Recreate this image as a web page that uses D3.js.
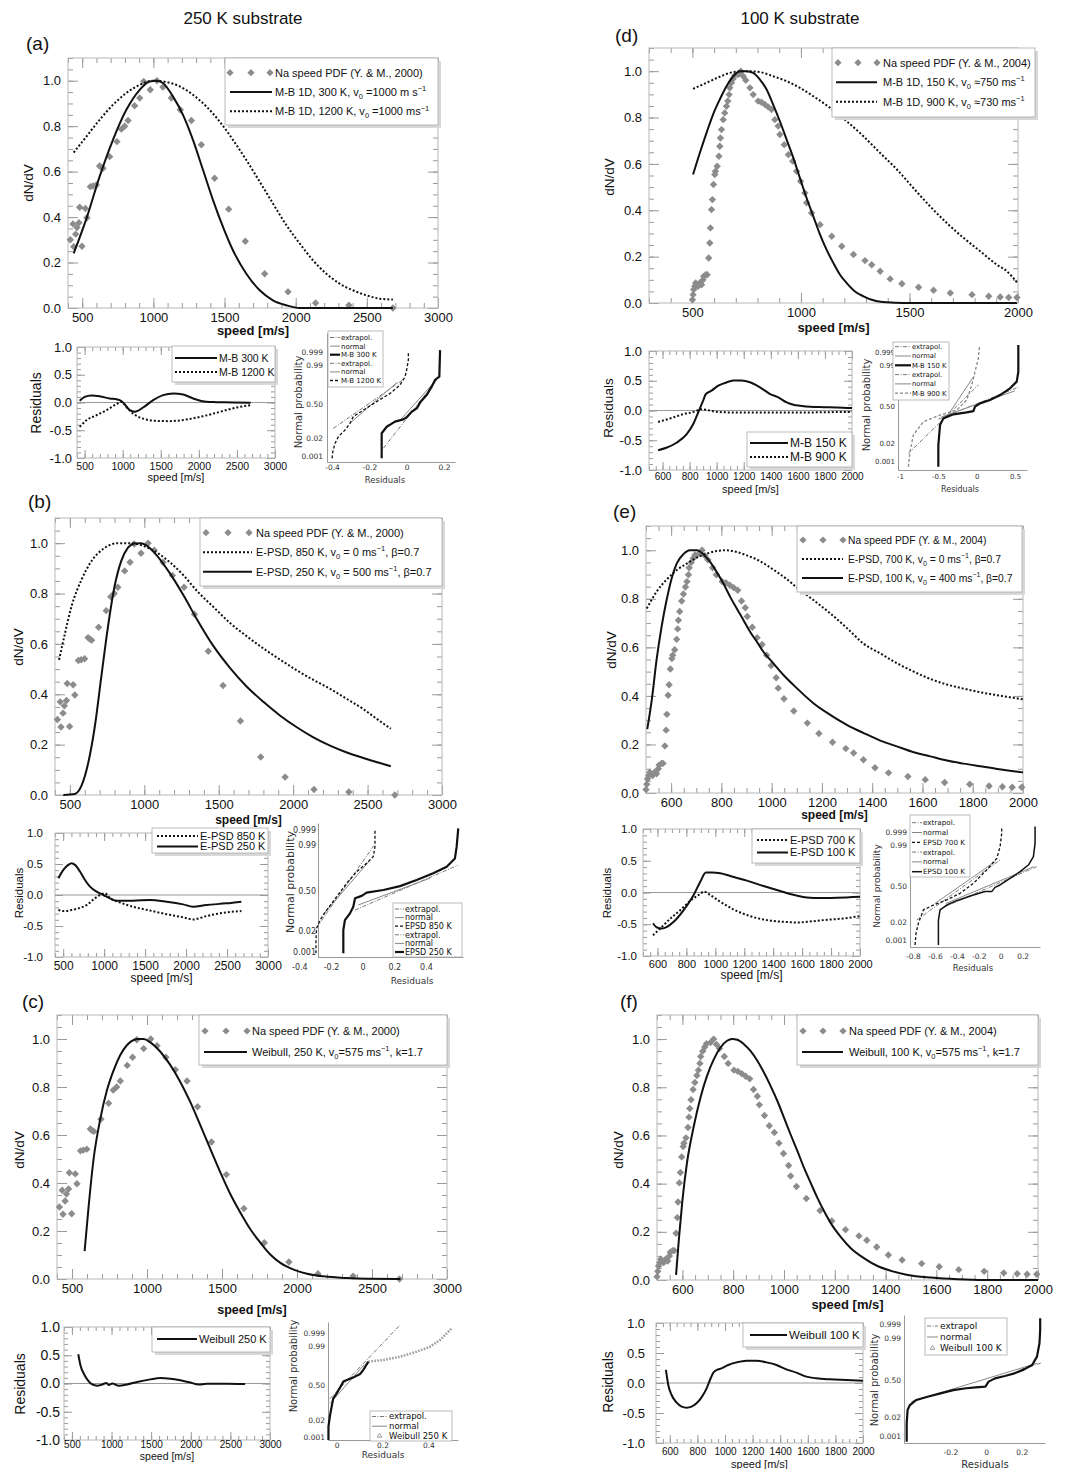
<!DOCTYPE html>
<html>
<head>
<meta charset="utf-8">
<script src="https://cdn.jsdelivr.net/npm/d3@7"></script>
<style>
body { margin: 0; background: #fff; }
svg { display: block; }
</style>
</head>
<body>
<script>
var SANS = "'Liberation Sans', Arial, Helvetica, sans-serif";
var DEJA = "'DejaVu Sans', sans-serif";
var DIAM = "#8c8c8c";

// measured Na speed PDF, [speed m/s, dN/dV]
var naPdf2000 = [[416,0.30],[435,0.37],[440,0.27],[454,0.325],[463,0.354],[477,0.375],[482,0.443],[498,0.272],[522,0.438],[533,0.397],[557,0.534],[576,0.537],[599,0.541],[622,0.625],[634,0.619],[646,0.615],[693,0.666],[744,0.732],[775,0.787],[798,0.80],[822,0.825],[868,0.89],[904,0.924],[932,0.997],[978,0.96],[1025,1.0],[1067,0.972],[1126,0.924],[1189,0.872],[1267,0.825],[1337,0.718],[1430,0.571],[1529,0.435],[1646,0.294],[1782,0.151],[1946,0.071],[2140,0.022],[2374,0.012],[2683,0.0]];
var naPdf2004 = [[500,0.014],[503,0.036],[506,0.058],[511,0.072],[515,0.086],[526,0.072],[534,0.086],[542,0.079],[549,0.1],[552,0.115],[562,0.122],[568,0.122],[575,0.194],[580,0.259],[583,0.324],[588,0.403],[592,0.446],[597,0.511],[603,0.554],[606,0.568],[614,0.59],[622,0.633],[626,0.676],[629,0.712],[634,0.748],[642,0.791],[649,0.82],[657,0.849],[663,0.871],[669,0.899],[672,0.928],[680,0.95],[688,0.967],[695,0.981],[711,0.986],[723,1.0],[734,0.978],[746,0.961],[765,0.928],[780,0.899],[803,0.871],[818,0.866],[834,0.856],[849,0.846],[865,0.835],[880,0.791],[895,0.763],[903,0.727],[923,0.683],[942,0.64],[962,0.612],[980,0.568],[998,0.525],[1018,0.475],[1026,0.432],[1049,0.388],[1088,0.338],[1142,0.288],[1188,0.245],[1242,0.209],[1295,0.183],[1326,0.165],[1365,0.137],[1411,0.104],[1465,0.083],[1542,0.068],[1611,0.055],[1688,0.043],[1788,0.036],[1865,0.029],[1918,0.026],[1957,0.024],[1995,0.024]];

// model fits, [speed, dN/dV]
var fitMB300K = [[440,0.24],[533,0.40],[622,0.578],[716,0.74],[810,0.872],[904,0.96],[974,0.997],[1021,1.0],[1067,0.99],[1138,0.93],[1208,0.85],[1278,0.74],[1349,0.607],[1419,0.475],[1489,0.357],[1559,0.254],[1653,0.151],[1747,0.078],[1840,0.034],[1934,0.012],[2028,0.0],[2683,0]];
var fitMB1200K = [[440,0.684],[529,0.754],[622,0.828],[716,0.894],[810,0.946],[904,0.982],[997,1.0],[1091,0.994],[1185,0.975],[1278,0.938],[1372,0.887],[1466,0.82],[1559,0.74],[1653,0.651],[1747,0.556],[1840,0.46],[1934,0.365],[2028,0.284],[2121,0.21],[2215,0.151],[2309,0.107],[2402,0.078],[2496,0.056],[2590,0.041],[2683,0.037]];
var fitEPSD850K = [[427,0.536],[467,0.642],[511,0.749],[578,0.855],[644,0.928],[733,0.981],[822,1.0],[911,1.0],[1000,0.988],[1089,0.961],[1178,0.921],[1267,0.87],[1356,0.809],[1467,0.745],[1578,0.682],[1689,0.63],[1800,0.582],[1911,0.538],[2022,0.496],[2133,0.458],[2244,0.423],[2356,0.383],[2467,0.343],[2560,0.303],[2656,0.263]];
var fitEPSD250K = [[456,0],[533,0.004],[578,0.037],[622,0.124],[667,0.27],[711,0.469],[756,0.669],[800,0.828],[844,0.928],[889,0.981],[933,0.999],[978,1.0],[1022,0.988],[1089,0.948],[1178,0.875],[1267,0.789],[1356,0.695],[1467,0.589],[1578,0.503],[1689,0.43],[1800,0.37],[1911,0.316],[2022,0.27],[2133,0.23],[2244,0.197],[2356,0.17],[2467,0.148],[2578,0.128],[2656,0.114]];
var fitWeib250K = [[584,0.116],[611,0.304],[644,0.5],[689,0.668],[733,0.786],[778,0.87],[822,0.933],[867,0.975],[911,0.996],[944,1.0],[978,1.0],[1022,0.986],[1089,0.947],[1156,0.891],[1222,0.821],[1289,0.737],[1356,0.64],[1422,0.542],[1489,0.444],[1556,0.353],[1622,0.277],[1689,0.207],[1756,0.151],[1822,0.102],[1889,0.067],[1978,0.039],[2067,0.022],[2178,0.011],[2333,0.004],[2467,0.001],[2689,0]];
var fitMB150K = [[503,0.554],[534,0.647],[565,0.734],[595,0.813],[626,0.878],[657,0.935],[688,0.978],[718,1.0],[749,1.0],[780,0.993],[811,0.964],[842,0.921],[872,0.856],[903,0.784],[934,0.705],[965,0.626],[995,0.54],[1026,0.453],[1057,0.374],[1088,0.295],[1118,0.23],[1149,0.173],[1180,0.122],[1211,0.086],[1249,0.05],[1288,0.029],[1334,0.012],[1395,0.003],[1472,0],[1995,0]];
var fitMB900K = [[503,0.924],[565,0.95],[626,0.976],[688,0.996],[749,1.0],[811,0.996],[872,0.978],[934,0.957],[995,0.928],[1057,0.892],[1134,0.842],[1211,0.784],[1288,0.719],[1365,0.647],[1442,0.576],[1518,0.496],[1595,0.417],[1672,0.345],[1749,0.281],[1826,0.223],[1903,0.165],[1949,0.137],[1995,0.089]];
var fitEPSD700K = [[503,0.76],[542,0.829],[582,0.879],[622,0.918],[662,0.945],[702,0.97],[742,0.986],[781,0.997],[821,1.0],[861,0.993],[901,0.979],[941,0.962],[981,0.938],[1020,0.911],[1060,0.881],[1100,0.847],[1166,0.795],[1233,0.74],[1299,0.68],[1366,0.615],[1432,0.575],[1498,0.535],[1565,0.5],[1631,0.47],[1697,0.447],[1764,0.43],[1830,0.415],[1897,0.403],[2000,0.386]];
var fitEPSD100K = [[505,0.263],[523,0.384],[542,0.548],[562,0.685],[582,0.795],[602,0.884],[622,0.945],[649,0.984],[675,1.0],[702,1.0],[728,0.984],[755,0.952],[781,0.911],[808,0.863],[835,0.808],[861,0.76],[888,0.712],[914,0.664],[941,0.623],[967,0.582],[1007,0.534],[1047,0.486],[1100,0.432],[1166,0.37],[1233,0.322],[1299,0.281],[1366,0.247],[1432,0.216],[1498,0.192],[1565,0.168],[1631,0.151],[1697,0.134],[1764,0.121],[1830,0.11],[1897,0.099],[2000,0.085]];
var fitWeib100K = [[575,0.021],[586,0.167],[599,0.319],[618,0.486],[645,0.639],[671,0.757],[697,0.847],[724,0.917],[750,0.965],[776,0.993],[796,1.0],[816,0.997],[842,0.979],[868,0.951],[895,0.91],[921,0.861],[947,0.806],[974,0.743],[1000,0.674],[1026,0.604],[1053,0.535],[1079,0.465],[1105,0.403],[1132,0.34],[1158,0.285],[1184,0.236],[1224,0.178],[1263,0.132],[1316,0.09],[1368,0.058],[1421,0.038],[1487,0.021],[1579,0.01],[1684,0.003],[1789,0],[2000,0]];

// residuals, [speed, residual]
var resMB300K = [[435,0.03],[501,0.10],[589,0.126],[698,0.114],[830,0.072],[920,0.06],[961,0.042],[1005,0.0],[1093,-0.138],[1159,-0.168],[1268,-0.09],[1400,0.042],[1531,0.132],[1663,0.162],[1794,0.144],[1926,0.072],[2101,0.012],[2233,0.006],[2452,0],[2680,-0.006]];
var resMB1200K = [[435,-0.44],[523,-0.32],[654,-0.23],[786,-0.14],[917,-0.03],[983,0.012],[1049,-0.08],[1137,-0.2],[1268,-0.29],[1444,-0.33],[1619,-0.336],[1838,-0.306],[2057,-0.246],[2277,-0.168],[2496,-0.09],[2680,-0.048]];
var resEPSD850K = [[441,-0.243],[502,-0.26],[603,-0.243],[684,-0.216],[786,-0.162],[887,-0.054],[948,0],[1009,0.027],[1070,-0.05],[1192,-0.12],[1355,-0.19],[1558,-0.25],[1761,-0.31],[1964,-0.36],[2086,-0.395],[2248,-0.34],[2492,-0.28],[2675,-0.26]];
var resEPSD250K = [[441,0.27],[502,0.405],[562,0.486],[603,0.514],[644,0.486],[705,0.378],[766,0.243],[827,0.135],[908,0.054],[989,0],[1070,-0.054],[1152,-0.092],[1355,-0.092],[1558,-0.081],[1761,-0.108],[1964,-0.151],[2086,-0.189],[2248,-0.162],[2492,-0.135],[2675,-0.108]];
var resWeib250K = [[580,0.518],[610,0.31],[652,0.169],[702,0.056],[756,-0.017],[819,-0.039],[882,-0.017],[937,0.011],[966,-0.028],[1008,0],[1092,-0.039],[1197,-0.017],[1323,0.028],[1490,0.073],[1616,0.096],[1742,0.085],[1868,0.056],[1994,0.017],[2099,-0.017],[2203,-0.006],[2455,-0.006],[2686,-0.011]];
var resMB150K = [[567,-0.667],[628,-0.627],[703,-0.542],[777,-0.401],[826,-0.232],[863,-0.034],[900,0.164],[920,0.277],[962,0.333],[1012,0.418],[1061,0.463],[1123,0.503],[1184,0.503],[1246,0.475],[1320,0.39],[1395,0.277],[1456,0.22],[1518,0.136],[1567,0.096],[1617,0.079],[1691,0.062],[1790,0.056],[1889,0.051],[2000,0.04]];
var resMB900K = [[567,-0.192],[653,-0.136],[752,-0.062],[851,-0.006],[876,0.023],[925,0.011],[999,-0.023],[1147,-0.034],[1345,-0.034],[1592,-0.034],[1839,-0.028],[2000,-0.023]];
var resEPSD700K = [[569,-0.673],[619,-0.567],[689,-0.409],[758,-0.277],[827,-0.129],[884,-0.04],[923,0.013],[965,-0.04],[1034,-0.145],[1126,-0.266],[1241,-0.372],[1356,-0.435],[1471,-0.462],[1574,-0.472],[1632,-0.462],[1747,-0.435],[1885,-0.409],[2000,-0.372]];
var resEPSD100K = [[569,-0.488],[597,-0.551],[631,-0.567],[666,-0.541],[712,-0.462],[781,-0.277],[850,-0.04],[896,0.171],[935,0.314],[976,0.314],[1034,0.303],[1103,0.261],[1218,0.187],[1333,0.103],[1448,0.024],[1517,-0.024],[1574,-0.055],[1632,-0.077],[1724,-0.087],[1839,-0.082],[2000,-0.066]];
var resWeib100K = [[572,0.217],[589,-0.033],[613,-0.2],[650,-0.328],[686,-0.394],[722,-0.411],[758,-0.394],[794,-0.339],[830,-0.239],[867,-0.089],[891,0.05],[915,0.172],[939,0.217],[975,0.244],[1023,0.3],[1084,0.344],[1156,0.372],[1228,0.372],[1301,0.344],[1373,0.3],[1445,0.228],[1518,0.172],[1590,0.106],[1662,0.078],[1759,0.061],[1879,0.05],[2000,0.039]];

// normal probability plots, [residual, normal quantile]
var probMB300K = [[-0.134,-3.23],[-0.134,-1.74],[-0.107,-1.35],[-0.0625,-1.05],[-0.018,-0.91],[0,-0.79],[0.027,-0.46],[0.054,-0.26],[0.075,0.14],[0.107,0.53],[0.134,1.03],[0.152,1.43],[0.175,1.62],[0.179,3.2]];
var probMB1200K = [[-0.40,-3.23],[-0.396,-2.83],[-0.384,-2.34],[-0.366,-1.94],[-0.33,-1.54],[-0.304,-1.15],[-0.286,-0.75],[-0.232,-0.36],[-0.161,0.14],[-0.089,0.63],[-0.036,1.13],[-0.009,1.62],[0,2.02],[0.009,2.61],[0.009,3.1]];
var extMB300K = [[-0.125,-2.63],[0.161,1.43]], normMB300K = [[-0.03,-0.9],[0.16,1.45]];
var extMB1200K = [[-0.393,-1.45],[-0.009,1.52]], normMB1200K = [[-0.30,-1.1],[-0.05,1.3]];
var probEPSD850K = [[-0.295,-3.17],[-0.295,-2.5],[-0.291,-1.9],[-0.269,-1.48],[-0.227,-0.97],[-0.164,-0.29],[-0.101,0.39],[-0.038,0.98],[0.025,1.41],[0.067,1.75],[0.078,2.26],[0.078,3.1]];
var probEPSD250K = [[-0.122,-3.17],[-0.122,-1.99],[-0.112,-1.48],[-0.08,-1.14],[-0.059,-0.8],[-0.048,-0.37],[-0.006,-0.25],[0.025,-0.08],[0.131,0.05],[0.236,0.25],[0.341,0.56],[0.446,0.9],[0.531,1.24],[0.583,1.66],[0.594,2.26],[0.604,3.19]];
var extEPSD850K = [[-0.29,-1.85],[0.07,2.3]], normEPSD850K = [[-0.25,-1.2],[0.05,1.6]];
var extEPSD250K = [[-0.048,-0.97],[0.604,1.32]], normEPSD250K = [[-0.027,-0.71],[0.425,0.65]];
var probWeib250K = [[-0.036,-3.25],[-0.036,-2.46],[-0.029,-1.77],[-0.022,-1.28],[-0.015,-0.79],[0,-0.49],[0.015,-0.14],[0.029,0.2],[0.044,0.3],[0.073,0.45],[0.102,0.65],[0.116,0.89],[0.138,1.38],[0.204,1.48],[0.276,1.67],[0.349,1.97],[0.407,2.26],[0.451,2.66],[0.487,3.15],[0.502,3.35]];
var extWeib250K = [[-0.03,-0.81],[0.276,3.54]], normWeib250K = [[-0.03,-1.1],[0.12,1.2]];
var probMB150K = [[-0.5,-3.4],[-0.5,-2.17],[-0.478,-1.04],[-0.435,-0.66],[-0.304,-0.43],[-0.13,-0.32],[-0.043,-0.25],[-0.022,0],[0.043,0.19],[0.174,0.38],[0.304,0.66],[0.435,1.04],[0.522,1.42],[0.543,1.98],[0.543,3.49]];
var probMB900K = [[-0.891,-3.4],[-0.87,-2.55],[-0.826,-1.6],[-0.696,-0.85],[-0.478,-0.47],[-0.26,-0.19],[-0.13,0.38],[-0.065,1.23],[-0.022,1.98],[0.022,2.74],[0.035,3.4]];
var extMB150K = [[-0.5,-0.7],[0.543,1.1]], normMB150K = [[-0.457,-0.57],[0.5,0.9]];
var extMB900K = [[-0.891,-2.64],[0.022,1.23]], normMB900K = [[-0.39,-0.57],[-0.04,1.7]];
var probEPSD700K = [[-0.781,-3.38],[-0.772,-2.71],[-0.751,-2.14],[-0.705,-1.37],[-0.614,-1.09],[-0.492,-0.8],[-0.371,-0.42],[-0.249,0.15],[-0.128,0.92],[-0.036,1.58],[-0.006,2.25],[0.009,3.02],[0.009,3.4]];
var probEPSD100K = [[-0.568,-3.38],[-0.568,-1.95],[-0.553,-1.37],[-0.492,-1.09],[-0.401,-0.84],[-0.249,-0.52],[-0.143,-0.32],[-0.082,-0.32],[-0.052,-0.08],[-0.006,0.06],[0.085,0.44],[0.176,0.82],[0.252,1.2],[0.298,1.68],[0.313,2.44],[0.313,3.4]];
var extEPSD700K = [[-0.766,-1.95],[-0.006,1.49]], normEPSD700K = [[-0.6,-1.0],[-0.05,1.4]];
var extEPSD100K = [[-0.508,-1.18],[0.328,1.11]], normEPSD100K = [[-0.5,-1.0],[0.3,1.1]];
var probWeib100K = [[-0.445,-3.43],[-0.445,-2.41],[-0.44,-1.67],[-0.427,-1.39],[-0.391,-1.11],[-0.328,-0.93],[-0.256,-0.74],[-0.184,-0.56],[-0.112,-0.46],[-0.058,-0.41],[-0.004,-0.37],[0.014,-0.09],[0.05,0.09],[0.105,0.22],[0.159,0.37],[0.213,0.59],[0.258,0.83],[0.285,1.3],[0.299,2.04],[0.303,2.78],[0.303,3.43]];
var extWeib100K = [[0.2,0.6],[0.31,0.95]], normWeib100K = [[-0.418,-1.2],[0.285,0.93]];

// tick labels
var yMainTicks = [0, 0.2, 0.4, 0.6, 0.8, 1.0];
var yResTicks = [-1, -0.5, 0, 0.5, 1];
var probTicks = [0.001, 0.02, 0.5, 0.99, 0.999];
var probLabels = ["0.001", "0.02", "0.50", "0.99", "0.999"];
var speedTicksA = [500, 1000, 1500, 2000, 2500, 3000];
var speedTicksD = [500, 1000, 1500, 2000];
var speedTicksE = [600, 800, 1000, 1200, 1400, 1600, 1800, 2000];

var STYLE = {
  solid: {c: "#111", w: 2, d: null},
  dot: {c: "#111", w: 2, d: "2,2"},
  thick: {c: "#111", w: 2.2, d: null},
  thin: {c: "#111", w: 1.5, d: null},
  dash: {c: "#111", w: 1.3, d: "3,2"},
  gdash: {c: "#888", w: 1.3, d: "3,2"},
  ext: {c: "#777", w: 1, d: "4,1.5,1,1.5"},
  norm: {c: "#888", w: 1, d: null},
  tri: {c: "#9a9a9a", w: 2.5, d: "1.6,1.4"}
};

//Create SVG element
var svg = d3.select("body").append("svg")
  .attr("width", 1067).attr("height", 1469)
  .style("background", "#fff");

function steps(d, s) {
  var out = [];
  for (var v = Math.ceil(d[0] / s - 1e-9) * s; v <= d[1] + 1e-9; v += s) out.push(+v.toFixed(6));
  return out;
}

// inverse normal CDF (Acklam), used for the probability axis
function probit(p) {
  var a = [-39.69683028665376, 220.9460984245205, -275.9285104469687, 138.3577518672690, -30.66479806614716, 2.506628277459239],
      b = [-54.47609879822406, 161.5858368580409, -155.6989798598866, 66.80131188771972, -13.28068155288572],
      c = [-7.784894002430293e-03, -0.3223964580411365, -2.400758277161838, -2.549732539343734, 4.374664141464968, 2.938163982698783],
      d = [7.784695709041462e-03, 0.3224671290700398, 2.445134137142996, 3.754408661907416];
  var pl = 0.02425, q, r;
  if (p < pl) {
    q = Math.sqrt(-2 * Math.log(p));
    return (((((c[0]*q+c[1])*q+c[2])*q+c[3])*q+c[4])*q+c[5]) / ((((d[0]*q+d[1])*q+d[2])*q+d[3])*q+1);
  }
  if (p > 1 - pl) {
    q = Math.sqrt(-2 * Math.log(1 - p));
    return -(((((c[0]*q+c[1])*q+c[2])*q+c[3])*q+c[4])*q+c[5]) / ((((d[0]*q+d[1])*q+d[2])*q+d[3])*q+1);
  }
  q = p - 0.5; r = q * q;
  return (((((a[0]*r+a[1])*r+a[2])*r+a[3])*r+a[4])*r+a[5])*q / (((((b[0]*r+b[1])*r+b[2])*r+b[3])*r+b[4])*r+1);
}

function rich(t, parts, fs) {
  var shift = 0;
  (typeof parts === "string" ? [parts] : parts).forEach(function(p) {
    var s = t.append("tspan"), target = 0, txt = p;
    if (typeof p !== "string") {
      txt = p.sub || p.sup;
      target = p.sub ? fs * 0.3 : -fs * 0.42;
      s.attr("font-size", fs * 0.68);
    }
    if (target - shift !== 0) s.attr("dy", target - shift);
    s.text(txt);
    shift = target;
  });
}

var diamondPath = function(r) { return d3.symbol(d3.symbolSquare, 2 * r * r)(); };

function legend(o) {
  var g = svg.append("g").attr("transform", "translate(" + o.x + "," + o.y + ")");
  if (o.shadow) g.append("rect").attr("x", 3).attr("y", 3).attr("width", o.w).attr("height", o.h).attr("fill", "#d8d8d8");
  g.append("rect").attr("width", o.w).attr("height", o.h).attr("fill", "#fff").attr("stroke", "#aaa").attr("stroke-width", 0.8);
  o.rows.forEach(function(r, i) {
    var cy = o.y0 + i * o.dy;
    if (r.kind === "diam") {
      o.dx.forEach(function(dx) {
        g.append("path").attr("d", diamondPath(3.6))
          .attr("transform", "translate(" + dx + "," + cy + ") rotate(45)").attr("fill", DIAM);
      });
    } else if (r.kind === "trimark") {
      g.append("path").attr("d", d3.symbol(d3.symbolTriangle, 9)())
        .attr("transform", "translate(" + ((o.s0 + o.s1) / 2) + "," + cy + ")")
        .attr("fill", "none").attr("stroke", "#777").attr("stroke-width", 0.7);
    } else {
      var st = STYLE[r.kind];
      g.append("line").attr("x1", o.s0).attr("x2", o.s1).attr("y1", cy).attr("y2", cy)
        .attr("stroke", st.c).attr("stroke-width", st.w).attr("stroke-dasharray", st.d);
    }
    var t = g.append("text").attr("x", o.tx).attr("y", cy).attr("dy", "0.35em")
      .attr("font-size", o.fs).attr("font-family", o.font || SANS).attr("fill", "#111");
    rich(t, r.label, o.fs);
  });
}

// boxed plot with inward ticks on all four sides
function framed(o) {
  var g = svg.append("g");
  var x = d3.scaleLinear().domain(o.xd).range([o.l, o.r]);
  var y = d3.scaleLinear().domain(o.yd).range([o.b, o.t]);
  function tk(axis, vals, len, tx, ty) {
    g.append("g").attr("transform", "translate(" + tx + "," + ty + ")")
      .call(axis.tickValues(vals).tickSizeInner(-len).tickSizeOuter(0).tickFormat(""))
      .call(function(s) {
        s.select(".domain").remove();
        s.selectAll("text").remove();
        s.selectAll("line").attr("stroke", "#9a9a9a");
      });
  }
  var xMin = steps(o.xd, o.xm), yMin = steps(o.yd, o.ym), tl = o.tl;
  tk(d3.axisLeft(y), yMin, tl / 2, o.l, 0);
  tk(d3.axisLeft(y), o.yt, tl, o.l, 0);
  tk(d3.axisRight(y), yMin, tl / 2, o.r, 0);
  tk(d3.axisRight(y), o.yt, tl, o.r, 0);
  tk(d3.axisBottom(x), xMin, tl / 2, 0, o.b);
  tk(d3.axisBottom(x), o.xt, tl, 0, o.b);
  tk(d3.axisTop(x), xMin, tl / 2, 0, o.t);
  tk(d3.axisTop(x), o.xt, tl, 0, o.t);
  g.append("rect").attr("x", o.l).attr("y", o.t).attr("width", o.r - o.l).attr("height", o.b - o.t)
    .attr("fill", "none").attr("stroke", "#b8b8b8");

  g.append("g").attr("transform", "translate(" + o.l + ",0)")
    .call(d3.axisLeft(y).tickValues(o.yt).tickSize(0).tickPadding(o.ypad).tickFormat(function(v) { return v.toFixed(1); }))
    .attr("font-family", SANS).attr("font-size", o.yfs)
    .call(function(s) { s.select(".domain").remove(); s.selectAll("text").attr("fill", "#111"); });
  g.append("g").attr("transform", "translate(0," + o.b + ")")
    .call(d3.axisBottom(x).tickValues(o.xt).tickSize(0).tickPadding(o.xpad).tickFormat(function(v) { return String(v); }))
    .attr("font-family", SANS).attr("font-size", o.xfs)
    .call(function(s) { s.select(".domain").remove(); s.selectAll("text").attr("fill", "#111"); });

  g.append("text").attr("transform", "translate(" + o.ylab.x + "," + o.ylab.y + ") rotate(-90)")
    .attr("text-anchor", "middle").attr("font-family", SANS).attr("font-size", o.ylab.fs).attr("fill", "#111")
    .text(o.ylab.t);
  g.append("text").attr("x", (o.l + o.r) / 2).attr("y", o.xlab.y)
    .attr("text-anchor", "middle").attr("font-family", SANS).attr("font-size", o.xlab.fs)
    .attr("font-weight", o.xlab.bold ? "bold" : null).attr("fill", "#111")
    .text("speed [m/s]");
  return {g: g, x: x, y: y};
}

function curve(g, x, y, data, kind, shape) {
  var st = STYLE[kind];
  g.append("path").datum(data)
    .attr("fill", "none").attr("stroke", st.c).attr("stroke-width", st.w).attr("stroke-dasharray", st.d)
    .attr("stroke-linejoin", "round")
    .attr("d", d3.line().x(function(d) { return x(d[0]); }).y(function(d) { return y(d[1]); }).curve(shape || d3.curveMonotoneX));
}

function mainPanel(o) {
  var f = framed({l: o.l, r: o.r, t: o.t, b: o.b, xd: o.xd, yd: [0, 1.1], xt: o.xt, xm: o.xm, yt: yMainTicks, ym: 0.05,
    tl: 10, yfs: 13, xfs: 13, ypad: 7, xpad: 5, ylab: {t: "dN/dV", x: o.ylab[0], y: o.ylab[1], fs: 13.5},
    xlab: {y: o.xlabY, fs: o.xlabFs, bold: true}});
  f.g.selectAll(null).data(o.pdf).join("path")
    .attr("d", diamondPath(3.7))
    .attr("transform", function(d) { return "translate(" + f.x(d[0]) + "," + f.y(d[1]) + ") rotate(45)"; })
    .attr("fill", DIAM);
  o.fits.forEach(function(c) { curve(f.g, f.x, f.y, c.data, c.kind); });
  svg.append("text").attr("x", o.tag[1]).attr("y", o.tag[2]).attr("font-family", SANS).attr("font-size", 19)
    .attr("fill", "#111").text(o.tag[0]);
  legend(Object.assign({shadow: true}, o.leg));
}

function resPanel(o) {
  var f = framed({l: o.l, r: o.r, t: o.t, b: o.b, xd: o.xd, yd: [-1, 1], xt: o.xt, xm: o.xm, yt: yResTicks, ym: 0.1,
    tl: 8, yfs: o.yfs, xfs: o.xfs, ypad: o.ypad, xpad: o.xpad,
    ylab: {t: "Residuals", x: o.ylab[0], y: o.ylab[1], fs: o.ylab[2]}, xlab: {y: o.xlab[0], fs: o.xlab[1]}});
  f.g.append("line").attr("x1", o.l).attr("x2", o.r).attr("y1", f.y(0)).attr("y2", f.y(0))
    .attr("stroke", "#999").attr("stroke-width", 1);
  o.curves.forEach(function(c) { curve(f.g, f.x, f.y, c.data, c.kind); });
  legend(Object.assign({shadow: true}, o.leg));
}

function probPanel(o) {
  var g = svg.append("g");
  var x = d3.scaleLinear().domain(o.xd).range([o.l, o.r]);
  var y = d3.scaleLinear().domain(o.yd).range([o.b, o.t]);
  g.append("g").attr("transform", "translate(0," + o.b + ")")
    .call(d3.axisBottom(x).tickValues(o.xt).tickSizeInner(0).tickSizeOuter(0).tickPadding(o.xpad)
      .tickFormat(function(v) { return v === 0 ? "0" : String(v); }))
    .attr("font-family", DEJA).attr("font-size", o.tfs)
    .call(function(s) { s.select(".domain").attr("stroke", "#999"); s.selectAll("text").attr("fill", "#333"); });
  g.append("g").attr("transform", "translate(" + o.l + ",0)")
    .call(d3.axisLeft(y).tickValues(probTicks.map(probit)).tickSizeInner(0).tickSizeOuter(0).tickPadding(o.ypad)
      .tickFormat(function(v, i) { return probLabels[i]; }))
    .attr("font-family", DEJA).attr("font-size", o.tfs)
    .call(function(s) { s.select(".domain").attr("stroke", "#999"); s.selectAll("text").attr("fill", "#333"); });
  o.lines.forEach(function(c) { curve(g, x, y, c.data, c.kind, d3.curveLinear); });
  g.append("text").attr("x", o.xlab[0]).attr("y", o.xlab[1]).attr("text-anchor", "middle")
    .attr("font-family", DEJA).attr("font-size", o.xlab[2]).attr("fill", "#333").text("Residuals");
  g.append("text").attr("transform", "translate(" + o.ylab[0] + "," + o.ylab[1] + ") rotate(-90)")
    .attr("text-anchor", "middle").attr("font-family", DEJA).attr("font-size", o.ylab[2]).attr("fill", "#333")
    .text("Normal probability");
  legend(Object.assign({shadow: false, font: DEJA}, o.leg));
}

// column titles
svg.append("text").attr("x", 243).attr("y", 24).attr("text-anchor", "middle")
  .attr("font-family", SANS).attr("font-size", 17).attr("fill", "#111").text("250 K substrate");
svg.append("text").attr("x", 800).attr("y", 24).attr("text-anchor", "middle")
  .attr("font-family", SANS).attr("font-size", 17).attr("fill", "#111").text("100 K substrate");

var pdfLabel2000 = "Na speed PDF (Y. & M., 2000)";
var pdfLabel2004 = "Na speed PDF (Y. & M., 2004)";

// ---- (a) ----
mainPanel({l: 68, r: 438, t: 58, b: 308, xd: [400, 3000], xt: speedTicksA, xm: 100, pdf: naPdf2000,
  fits: [{data: fitMB1200K, kind: "dot"}, {data: fitMB300K, kind: "solid"}],
  ylab: [33, 183], xlabY: 335, xlabFs: 13, tag: ["(a)", 26, 50],
  leg: {x: 225, y: 58, w: 213, h: 67, y0: 14.7, dy: 19.3, dx: [5, 26, 45], s0: 5, s1: 47, tx: 50, fs: 11,
    rows: [{kind: "diam", label: pdfLabel2000},
           {kind: "solid", label: ["M-B 1D, 300 K, v", {sub: "0"}, " =1000 m s", {sup: "\u22121"}]},
           {kind: "dot", label: ["M-B 1D, 1200 K, v", {sub: "0"}, " =1000 ms", {sup: "\u22121"}]}]}});
resPanel({l: 77, r: 275, t: 347, b: 458, xd: [400, 3000], xt: speedTicksA, xm: 100,
  yfs: 13, xfs: 10.5, ypad: 5, xpad: 5, ylab: [41, 403, 14], xlab: [481, 11],
  curves: [{data: resMB1200K, kind: "dot"}, {data: resMB300K, kind: "solid"}],
  leg: {x: 172, y: 346, w: 103, h: 36, y0: 12, dy: 14, s0: 3, s1: 45, tx: 47, fs: 10.5,
    rows: [{kind: "solid", label: "M-B 300 K"}, {kind: "dot", label: "M-B 1200 K"}]}});
probPanel({l: 327, r: 455, t: 333, b: 462, xd: [-0.427, 0.259], xt: [-0.4, -0.2, 0, 0.2], yd: [-3.446, 4.219],
  tfs: 7.5, xpad: 2.5, ypad: 4, xlab: [385, 483, 8.5], ylab: [302, 402, 10],
  lines: [{data: extMB1200K, kind: "ext"}, {data: normMB1200K, kind: "norm"}, {data: extMB300K, kind: "ext"},
          {data: normMB300K, kind: "norm"}, {data: probMB1200K, kind: "dash"}, {data: probMB300K, kind: "thick"}],
  leg: {x: 328, y: 331, w: 55, h: 56, y0: 6.5, dy: 8.6, s0: 2, s1: 12, tx: 13, fs: 7,
    rows: [{kind: "ext", label: "extrapol."}, {kind: "norm", label: "normal"}, {kind: "thick", label: "M-B 300 K"},
           {kind: "ext", label: "extrapol."}, {kind: "norm", label: "normal"}, {kind: "dash", label: "M-B 1200 K"}]}});

// ---- (b) ----
mainPanel({l: 55, r: 442, t: 518, b: 795, xd: [400, 3000], xt: speedTicksA, xm: 100, pdf: naPdf2000,
  fits: [{data: fitEPSD850K, kind: "dot"}, {data: fitEPSD250K, kind: "solid"}],
  ylab: [23, 647], xlabY: 824, xlabFs: 12, tag: ["(b)", 28, 508],
  leg: {x: 200, y: 518, w: 242, h: 68, y0: 14.7, dy: 19.5, dx: [6, 28, 49], s0: 3, s1: 52, tx: 56, fs: 11,
    rows: [{kind: "diam", label: pdfLabel2000},
           {kind: "dot", label: ["E-PSD, 850 K, v", {sub: "0"}, " = 0 ms", {sup: "\u22121"}, ", \u03b2=0.7"]},
           {kind: "solid", label: ["E-PSD, 250 K, v", {sub: "0"}, " = 500 ms", {sup: "\u22121"}, ", \u03b2=0.7"]}]}});
resPanel({l: 55, r: 268, t: 833, b: 957, xd: [400, 3000], xt: speedTicksA, xm: 100,
  yfs: 11.5, xfs: 12, ypad: 12, xpad: 4, ylab: [23, 893, 11.5], xlab: [982, 12],
  curves: [{data: resEPSD850K, kind: "dot"}, {data: resEPSD250K, kind: "solid"}],
  leg: {x: 152, y: 828, w: 116, h: 25, y0: 8, dy: 10.5, s0: 5, s1: 46, tx: 48, fs: 11,
    rows: [{kind: "dot", label: "E-PSD 850 K"}, {kind: "solid", label: "E-PSD 250 K"}]}});
probPanel({l: 318, r: 463, t: 823, b: 957, xd: [-0.282, 0.634], xt: [-0.4, -0.2, 0, 0.2, 0.4], yd: [-3.362, 3.464],
  tfs: 8, xpad: 7, ypad: 2, xlab: [412, 984, 9], ylab: [294, 882, 11],
  lines: [{data: extEPSD850K, kind: "ext"}, {data: normEPSD850K, kind: "norm"}, {data: extEPSD250K, kind: "ext"},
          {data: normEPSD250K, kind: "norm"}, {data: probEPSD850K, kind: "dash"}, {data: probEPSD250K, kind: "thick"}],
  leg: {x: 393, y: 903, w: 69, h: 54, y0: 6, dy: 8.6, s0: 2, s1: 11, tx: 12, fs: 8,
    rows: [{kind: "ext", label: "extrapol."}, {kind: "norm", label: "normal"}, {kind: "dash", label: "EPSD 850 K"},
           {kind: "ext", label: "extrapol."}, {kind: "norm", label: "normal"}, {kind: "thick", label: "EPSD 250 K"}]}});

// ---- (c) ----
mainPanel({l: 57, r: 447, t: 1015, b: 1279, xd: [400, 3000], xt: speedTicksA, xm: 100, pdf: naPdf2000,
  fits: [{data: fitWeib250K, kind: "solid"}],
  ylab: [24, 1150], xlabY: 1314, xlabFs: 12.5, tag: ["(c)", 22, 1008],
  leg: {x: 199, y: 1015, w: 248, h: 50, y0: 16, dy: 21, dx: [6, 27, 48], s0: 5, s1: 48, tx: 53, fs: 11,
    rows: [{kind: "diam", label: pdfLabel2000},
           {kind: "solid", label: ["Weibull, 250 K, v", {sub: "0"}, "=575 ms", {sup: "\u22121"}, ", k=1.7"]}]}});
resPanel({l: 64, r: 270, t: 1327, b: 1440, xd: [400, 3000], xt: speedTicksA, xm: 100,
  yfs: 14, xfs: 10, ypad: 4, xpad: 1, ylab: [25, 1384, 14], xlab: [1460, 10.5],
  curves: [{data: resWeib250K, kind: "solid"}],
  leg: {x: 152, y: 1327, w: 118, h: 25, y0: 12, dy: 12, s0: 5, s1: 45, tx: 47, fs: 11,
    rows: [{kind: "solid", label: "Weibull 250 K"}]}});
probPanel({l: 328, r: 458, t: 1322, b: 1440, xd: [-0.038, 0.529], xt: [0, 0.2, 0.4], yd: [-3.249, 3.721],
  tfs: 7.5, xpad: 2.5, ypad: 3, xlab: [383, 1458, 9], ylab: [297, 1366, 10],
  lines: [{data: extWeib250K, kind: "ext"}, {data: normWeib250K, kind: "norm"},
          {data: probWeib250K.slice(12), kind: "tri"}, {data: probWeib250K.slice(0, 13), kind: "thick"}],
  leg: {x: 370, y: 1411, w: 82, h: 30, y0: 5.5, dy: 9.7, s0: 2, s1: 17, tx: 19, fs: 8.5,
    rows: [{kind: "ext", label: "extrapol."}, {kind: "norm", label: "normal"}, {kind: "trimark", label: "Weibull 250 K"}]}});

// ---- (d) ----
mainPanel({l: 649, r: 1018, t: 48, b: 303, xd: [300, 2000], xt: speedTicksD, xm: 100, pdf: naPdf2004,
  fits: [{data: fitMB900K, kind: "dot"}, {data: fitMB150K, kind: "solid"}],
  ylab: [614, 177], xlabY: 332, xlabFs: 13, tag: ["(d)", 615, 42],
  leg: {x: 832, y: 48, w: 203, h: 69, y0: 14.7, dy: 19.5, dx: [6, 26, 45], s0: 4, s1: 45, tx: 51, fs: 11,
    rows: [{kind: "diam", label: pdfLabel2004},
           {kind: "solid", label: ["M-B 1D, 150 K, v", {sub: "0"}, " \u2248750 ms", {sup: "\u22121"}]},
           {kind: "dot", label: ["M-B 1D, 900 K, v", {sub: "0"}, " \u2248730 ms", {sup: "\u22121"}]}]}});
resPanel({l: 649, r: 852, t: 351, b: 470, xd: [500, 2000], xt: speedTicksE, xm: 50,
  yfs: 13, xfs: 10, ypad: 7, xpad: 3, ylab: [613, 408, 13.5], xlab: [493, 11],
  curves: [{data: resMB900K, kind: "dot"}, {data: resMB150K, kind: "solid"}],
  leg: {x: 747, y: 432, w: 105, h: 35, y0: 11, dy: 14, s0: 3, s1: 41, tx: 43, fs: 12,
    rows: [{kind: "solid", label: "M-B 150 K"}, {kind: "dot", label: "M-B 900 K"}]}});
probPanel({l: 898, r: 1027, t: 342, b: 470, xd: [-1.026, 0.656], xt: [-1, -0.5, 0, 0.5], yd: [-3.582, 3.662],
  tfs: 7, xpad: 4, ypad: 3, xlab: [960, 492, 8], ylab: [870, 405, 10],
  lines: [{data: extMB900K, kind: "ext"}, {data: normMB900K, kind: "norm"}, {data: extMB150K, kind: "ext"},
          {data: normMB150K, kind: "norm"}, {data: probMB900K, kind: "gdash"}, {data: probMB150K, kind: "thick"}],
  leg: {x: 893, y: 342, w: 56, h: 58, y0: 4.7, dy: 9.3, s0: 2, s1: 18, tx: 19, fs: 6.8,
    rows: [{kind: "ext", label: "extrapol."}, {kind: "norm", label: "normal"}, {kind: "thick", label: "M-B 150 K"},
           {kind: "ext", label: "extrapol."}, {kind: "norm", label: "normal"}, {kind: "gdash", label: "M-B 900 K"}]}});

// ---- (e) ----
mainPanel({l: 646, r: 1023, t: 526, b: 793, xd: [500, 2000], xt: speedTicksE, xm: 50, pdf: naPdf2004,
  fits: [{data: fitEPSD700K, kind: "dot"}, {data: fitEPSD100K, kind: "solid"}],
  ylab: [616, 650], xlabY: 819, xlabFs: 12, tag: ["(e)", 613, 518],
  leg: {x: 797, y: 526, w: 225, h: 66, y0: 14, dy: 19, dx: [6, 26, 46], s0: 5, s1: 46, tx: 51, fs: 10.3,
    rows: [{kind: "diam", label: pdfLabel2004},
           {kind: "dot", label: ["E-PSD, 700 K, v", {sub: "0"}, " = 0 ms", {sup: "\u22121"}, ", \u03b2=0.7"]},
           {kind: "solid", label: ["E-PSD, 100 K, v", {sub: "0"}, " = 400 ms", {sup: "\u22121"}, ", \u03b2=0.7"]}]}});
resPanel({l: 643, r: 860, t: 829, b: 956, xd: [500, 2000], xt: speedTicksE, xm: 50,
  yfs: 11.5, xfs: 11, ypad: 6, xpad: 4, ylab: [611, 893, 11.5], xlab: [979, 12],
  curves: [{data: resEPSD700K, kind: "dot"}, {data: resEPSD100K, kind: "solid"}],
  leg: {x: 752, y: 829, w: 108, h: 34, y0: 11, dy: 12.5, s0: 5, s1: 36, tx: 38, fs: 11,
    rows: [{kind: "dot", label: "E-PSD 700 K"}, {kind: "solid", label: "E-PSD 100 K"}]}});
probPanel({l: 910, r: 1040, t: 817, b: 947, xd: [-0.827, 0.358], xt: [-0.8, -0.6, -0.4, -0.2, 0, 0.2], yd: [-3.492, 3.95],
  tfs: 7.5, xpad: 7, ypad: 3, xlab: [973, 971, 8.5], ylab: [880, 886, 9],
  lines: [{data: extEPSD700K, kind: "ext"}, {data: normEPSD700K, kind: "norm"}, {data: extEPSD100K, kind: "ext"},
          {data: normEPSD100K, kind: "norm"}, {data: probEPSD700K, kind: "dash"}, {data: probEPSD100K, kind: "thin"}],
  leg: {x: 910, y: 815, w: 60, h: 62, y0: 7.7, dy: 9.8, s0: 2, s1: 12, tx: 13, fs: 7.2,
    rows: [{kind: "ext", label: "extrapol."}, {kind: "norm", label: "normal"}, {kind: "dash", label: "EPSD 700 K"},
           {kind: "ext", label: "extrapol."}, {kind: "norm", label: "normal"}, {kind: "thin", label: "EPSD 100 K"}]}});

// ---- (f) ----
mainPanel({l: 657, r: 1038, t: 1015, b: 1280, xd: [500, 2000], xt: speedTicksE, xm: 50, pdf: naPdf2004,
  fits: [{data: fitWeib100K, kind: "solid"}],
  ylab: [623, 1150], xlabY: 1309, xlabFs: 13, tag: ["(f)", 620, 1008],
  leg: {x: 797, y: 1015, w: 241, h: 50, y0: 16, dy: 21, dx: [6, 26, 46], s0: 5, s1: 46, tx: 52, fs: 11,
    rows: [{kind: "diam", label: pdfLabel2004},
           {kind: "solid", label: ["Weibull, 100 K, v", {sub: "0"}, "=575 ms", {sup: "\u22121"}, ", k=1.7"]}]}});
resPanel({l: 656, r: 863, t: 1323, b: 1443, xd: [500, 2000], xt: speedTicksE, xm: 50,
  yfs: 13, xfs: 10, ypad: 11, xpad: 5, ylab: [613, 1382, 14], xlab: [1468, 11],
  curves: [{data: resWeib100K, kind: "solid"}],
  leg: {x: 743, y: 1323, w: 120, h: 24, y0: 12, dy: 12, s0: 7, s1: 44, tx: 46, fs: 11.5,
    rows: [{kind: "solid", label: "Weibull 100 K"}]}});
probPanel({l: 904, r: 1045, t: 1315, b: 1443, xd: [-0.46, 0.33], xt: [-0.2, 0, 0.2], yd: [-3.5, 3.611],
  tfs: 7.5, xpad: 7, ypad: 3, xlab: [985, 1468, 10], ylab: [878, 1380, 10],
  lines: [{data: normWeib100K, kind: "norm"}, {data: extWeib100K, kind: "ext"}, {data: probWeib100K, kind: "thick"}],
  leg: {x: 925, y: 1318, w: 82, h: 37, y0: 8, dy: 11, s0: 2, s1: 13, tx: 15, fs: 9,
    rows: [{kind: "ext", label: "extrapol"}, {kind: "norm", label: "normal"}, {kind: "trimark", label: "Weibull 100 K"}]}});
</script>
</body>
</html>
